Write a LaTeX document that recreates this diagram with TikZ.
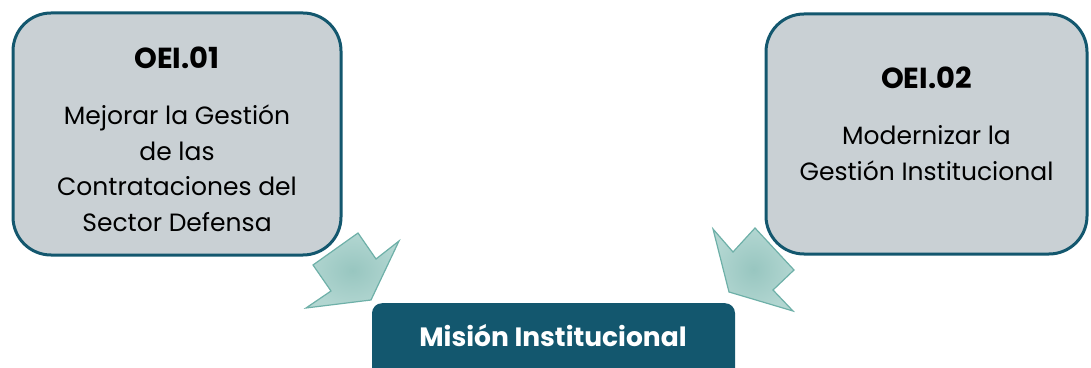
\documentclass[tikz,border=0pt]{standalone}
\usepackage{fontspec}
\setmainfont{Poppins}
\usepackage{tikz}
\usetikzlibrary{arrows.meta}

\definecolor{boxgray}{RGB}{201,208,212}
\definecolor{tealdark}{RGB}{19,87,110}
\definecolor{arrowin}{RGB}{152,198,192}
\definecolor{arrowout}{RGB}{178,214,209}
\definecolor{arrowline}{RGB}{110,176,168}

\begin{document}
\begin{tikzpicture}[x=1pt,y=1pt]
		\useasboundingbox (0,0) rectangle (1091,367);

		\begin{scope}[every node/.style={draw=tealdark,fill=boxgray,line width=3pt,
					rounded corners=38pt,inner sep=0pt}]
			\node[minimum width=328pt,minimum height=242pt] (oei1) at (177,233) {};
			\node[minimum width=321pt,minimum height=240pt] (oei2) at (926.5,233) {};
		\end{scope}

		\begin{scope}[every node/.style={align=center,inner sep=0pt,
					font=\fontsize{25}{35.5}\selectfont}]
			\node (oei1txt) at ([yshift=-5pt]oei1.center)
				{{\fontsize{29}{30}\selectfont\bfseries OEI.01}\\[21pt]
				Mejorar la Gestión\\de las\\Contrataciones del\\Sector Defensa};
			\node (oei2txt) at ([yshift=10.5pt]oei2.center)
				{{\fontsize{29}{30}\selectfont\bfseries OEI.02}\\[21pt]
				Modernizar la\\Gestión Institucional};
		\end{scope}

		\node[fill=tealdark,rounded corners=10pt,minimum width=363pt,minimum height=80pt,
			anchor=north] (mision) at (553.5,64) {};
		\node[text=white,font=\fontsize{26.5}{28}\selectfont\bfseries] (misiontxt) at (553,31)
			{Misión Institucional};

		% flechas de bloque hacia la mision
		\begin{scope}[every path/.style={inner color=arrowin,outer color=arrowout,
					draw=arrowline,line width=1.2pt,line join=miter}]
			\path (358,134) -- (376,108) -- (399,126) -- (371,67) -- (306,59) -- (331,76) -- (313,102) -- cycle;
			\path (713,138) -- (733,115) -- (755,139) -- (794,97) -- (773,77) -- (793,56) -- (729,75) -- cycle;
		\end{scope}
	\end{tikzpicture}
\end{document}
